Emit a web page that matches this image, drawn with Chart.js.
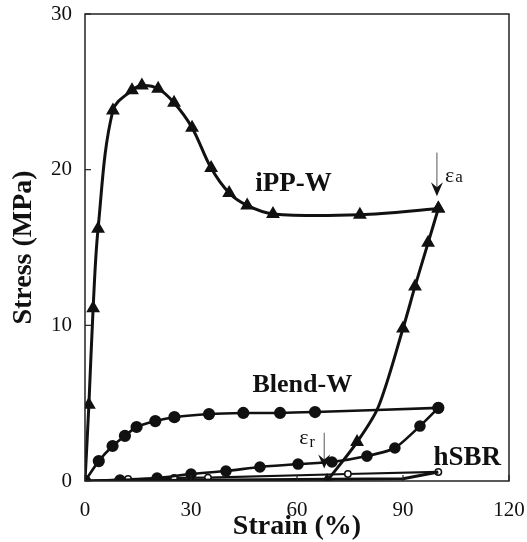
<!DOCTYPE html>
<html>
<head>
<meta charset="utf-8">
<script src="https://cdn.jsdelivr.net/npm/chart.js@4/dist/chart.umd.min.js"></script>
<style>
  html, body { margin: 0; padding: 0; background: #fff; }
  #wrap { width: 527px; height: 542px; position: relative; }
</style>
</head>
<body>
<div id="wrap"><canvas id="c" width="527" height="542"></canvas></div>
<script>
// ---- data ----
const xTicks = [0, 30, 60, 90, 120];
const yTicks = [0, 10, 20, 30];

// iPP-W loading (triangles)
const ippLoadStrain = [0, 1.1, 2.3, 3.7, 7.9, 13.3, 16.1, 20.7, 25.2, 30.3, 35.7, 40.8, 45.9, 53.2, 77.8, 100];
const ippLoadStress = [0, 4.9, 11.1, 16.2, 23.8, 25.1, 25.4, 25.2, 24.3, 22.7, 20.1, 18.5, 17.7, 17.15, 17.1, 17.5];
// iPP-W unloading
const ippUnloadStrain = [100, 97.1, 93.4, 90.0, 83.0, 77.0, 68.5];
const ippUnloadStress = [17.5, 15.3, 12.5, 9.8, 4.75, 2.5, 0];
const ippUnloadMarker = [1, 1, 1, 1, 0, 1, 1];

// Blend-W loading (filled circles)
const blendLoadStrain = [0, 3.9, 7.8, 11.3, 14.6, 19.9, 25.3, 35.1, 44.8, 55.2, 65.1, 100];
const blendLoadStress = [0, 1.28, 2.25, 2.9, 3.47, 3.85, 4.1, 4.3, 4.37, 4.37, 4.43, 4.7];
// Blend-W unloading
const blendUnloadStrain = [100, 94.8, 87.7, 79.8, 69.9, 60.3, 49.5, 39.9, 30.0, 20.4, 9.9, 0];
const blendUnloadStress = [4.7, 3.53, 2.12, 1.6, 1.22, 1.09, 0.9, 0.64, 0.45, 0.19, 0.06, 0];

// hSBR loading (open circles)
const sbrLoadStrain = [0, 12.2, 25.2, 34.8, 74.4, 100];
const sbrLoadStress = [0, 0.13, 0.2, 0.22, 0.45, 0.58];
// hSBR unloading
const sbrUnloadStrain = [100, 90, 60, 30, 0];
const sbrUnloadStress = [0.58, 0.15, 0.1, 0.05, 0];

// annotations (data coordinates)
const curveLabels = [
  { text: 'iPP-W', x: 59, y: 18.6, size: 27 },
  { text: 'Blend-W', x: 61.5, y: 5.7, size: 26 },
  { text: 'hSBR', x: 108.2, y: 1.0, size: 27 }
];
const arrowA = { x: 99.6, yTop: 21.1, yTip: 18.3, sub: 'a' };
const arrowR = { x: 67.7, yTop: 3.1, yTip: 0.8, sub: 'r' };

function pts(xs, ys) { return xs.map((x, i) => ({ x: x, y: ys[i] })); }

const black = '#111';
const serif = "'Liberation Serif', 'Times New Roman', serif";

const decor = {
  id: 'decor',
  afterDraw(chart) {
    const ctx = chart.ctx;
    const xs = chart.scales.x, ys = chart.scales.y;
    const a = chart.chartArea;
    ctx.save();
    // frame
    ctx.strokeStyle = '#222';
    ctx.lineWidth = 1.5;
    ctx.strokeRect(a.left, a.top, a.right - a.left, a.bottom - a.top);
    // inward ticks
    ctx.lineWidth = 1.2;
    yTicks.forEach(v => {
      const py = ys.getPixelForValue(v);
      ctx.beginPath(); ctx.moveTo(a.left, py); ctx.lineTo(a.left + 6, py); ctx.stroke();
    });
    xTicks.forEach(v => {
      const px = xs.getPixelForValue(v);
      ctx.beginPath(); ctx.moveTo(px, a.bottom); ctx.lineTo(px, a.bottom - 6); ctx.stroke();
    });
    // curve labels
    ctx.fillStyle = black;
    ctx.textAlign = 'center';
    ctx.textBaseline = 'alphabetic';
    curveLabels.forEach(l => {
      ctx.font = 'bold ' + l.size + 'px ' + serif;
      ctx.fillText(l.text, xs.getPixelForValue(l.x), ys.getPixelForValue(l.y));
    });
    // arrows
    [arrowA, arrowR].forEach(ar => {
      const px = xs.getPixelForValue(ar.x);
      const pt = ys.getPixelForValue(ar.yTop);
      const pb = ys.getPixelForValue(ar.yTip);
      ctx.strokeStyle = '#555';
      ctx.lineWidth = 1;
      ctx.beginPath(); ctx.moveTo(px, pt); ctx.lineTo(px, pb - 4); ctx.stroke();
      ctx.fillStyle = black;
      ctx.beginPath();
      ctx.moveTo(px, pb);
      ctx.lineTo(px - 6, pb - 14);
      ctx.lineTo(px, pb - 9);
      ctx.lineTo(px + 6, pb - 14);
      ctx.closePath();
      ctx.fill();
      // epsilon label
      ctx.textAlign = 'left';
      ctx.font = '22px ' + serif;
      const ew = ctx.measureText('\u03b5').width;
      if (ar.sub === 'a') {
        const ex = px + 8, ey = pt + 29;
        ctx.fillText('\u03b5', ex, ey);
        ctx.font = '17px ' + serif;
        ctx.fillText(ar.sub, ex + ew + 1, ey);
      } else {
        const ex = px - 25, ey = pt + 11;
        ctx.fillText('\u03b5', ex, ey);
        ctx.font = '16px ' + serif;
        ctx.fillText(ar.sub, ex + ew + 1, ey + 3);
      }
    });
    ctx.restore();
  }
};

new Chart(document.getElementById('c'), {
  type: 'scatter',
  data: {
    datasets: [
      { label: 'iPP-W', data: pts(ippLoadStrain, ippLoadStress), showLine: true, tension: 0.35,
        borderColor: black, borderWidth: 3, pointStyle: 'triangle', pointRadius: 5,
        pointBackgroundColor: black, pointBorderColor: black },
      { label: 'iPP-W unload', data: pts(ippUnloadStrain, ippUnloadStress), showLine: true, tension: 0.3,
        borderColor: black, borderWidth: 3, pointStyle: 'triangle',
        pointRadius: ippUnloadMarker.map(m => m ? 5 : 0),
        pointBackgroundColor: black, pointBorderColor: black },
      { label: 'Blend-W', data: pts(blendLoadStrain, blendLoadStress), showLine: true, tension: 0.3,
        borderColor: black, borderWidth: 2.6, pointStyle: 'circle', pointRadius: 4.8,
        pointBackgroundColor: black, pointBorderColor: black },
      { label: 'Blend-W unload', data: pts(blendUnloadStrain, blendUnloadStress), showLine: true, tension: 0.2,
        borderColor: black, borderWidth: 2.6, pointStyle: 'circle', pointRadius: 4.5,
        pointBackgroundColor: black, pointBorderColor: black },
      { label: 'hSBR unload', data: pts(sbrUnloadStrain, sbrUnloadStress), showLine: true, tension: 0,
        borderColor: black, borderWidth: 3, pointRadius: 0 },
      { label: 'hSBR', data: pts(sbrLoadStrain, sbrLoadStress), showLine: true, tension: 0,
        borderColor: black, borderWidth: 2.2, pointStyle: 'circle', pointRadius: 3.2,
        pointBackgroundColor: '#fff', pointBorderColor: black, pointBorderWidth: 1.5 }
    ]
  },
  options: {
    responsive: false,
    animation: false,
    events: [],
    layout: { padding: { top: 14, right: 18, left: 0, bottom: 0 } },
    plugins: { legend: { display: false }, tooltip: { enabled: false } },
    scales: {
      x: {
        type: 'linear', min: 0, max: 120,
        afterFit: s => { s.height = 61; s.paddingLeft = 0; s.paddingRight = 0; },
        afterBuildTicks: s => { s.ticks = xTicks.map(v => ({ value: v })); },
        grid: { display: false, drawTicks: false },
        border: { display: false },
        ticks: { color: '#111', padding: 17, font: { family: serif, size: 21 } },
        title: { display: true, text: 'Strain (%)', color: black, padding: { top: 0, bottom: 0 },
                 font: { family: serif, size: 28, weight: 'bold', lineHeight: 1.1 } }
      },
      y: {
        type: 'linear', min: 0, max: 30,
        afterFit: s => { s.width = 85; s.paddingTop = 0; s.paddingBottom = 0; },
        afterBuildTicks: s => { s.ticks = yTicks.map(v => ({ value: v })); },
        grid: { display: false, drawTicks: false },
        border: { display: false },
        ticks: { color: '#111', padding: 13, font: { family: serif, size: 21 } },
        title: { display: true, text: 'Stress (MPa)', color: black, padding: { top: 7, bottom: 0 },
                 font: { family: serif, size: 28, weight: 'bold' } }
      }
    }
  },
  plugins: [decor]
});
</script>
</body>
</html>
